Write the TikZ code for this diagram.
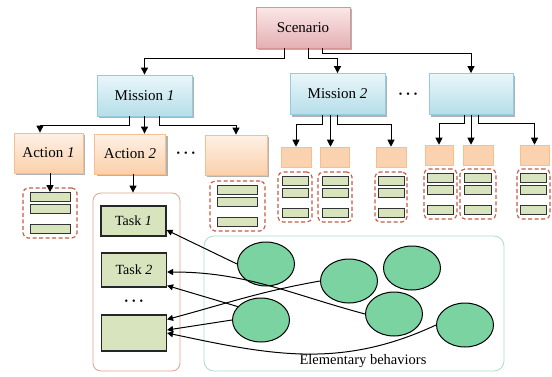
\documentclass[tikz,border=0pt]{standalone}
\usepackage{fontspec}
\setmainfont{Liberation Serif}
\usetikzlibrary{arrows.meta,shadows,shapes.geometric}

\definecolor{scentop}{HTML}{FBE7E7}
\definecolor{scenbot}{HTML}{E4B0B3}
\definecolor{scenline}{HTML}{D99594}
\definecolor{misstop}{HTML}{EAF6FA}
\definecolor{missbot}{HTML}{B5DEE9}
\definecolor{missline}{HTML}{93CDDD}
\definecolor{acttop}{HTML}{FEF1E5}
\definecolor{actbot}{HTML}{FAD0AB}
\definecolor{actline}{HTML}{F7BE90}
\definecolor{smallfill}{HTML}{FBD2B0}
\definecolor{barfill}{HTML}{D7E4BD}
\definecolor{grpline}{HTML}{C85A42}
\definecolor{taskline}{HTML}{E4A28D}
\definecolor{behline}{HTML}{A9DCD0}
\definecolor{behfill}{HTML}{7AD3A0}

\begin{document}
\begin{tikzpicture}[x=1pt,y=-1pt,line width=.35mm,
    arr/.style={-{Triangle[length=7pt,width=7pt]}},
    barr/.style={-{Triangle[length=6pt,width=6pt]}},
    shadowed/.style={drop shadow={shadow xshift=2pt,shadow yshift=-2pt,fill=black,opacity=.3}},
    topbox/.style={shadowed,minimum height=41pt,inner sep=0pt,line width=.3mm,font=\fontsize{15}{18}\selectfont},
    scenbox/.style={topbox,draw=scenline,top color=scentop,bottom color=scenbot,minimum width=94pt},
    missbox/.style={topbox,draw=missline,top color=misstop,bottom color=missbot,minimum width=95pt},
    actbox/.style={topbox,draw=actline,top color=acttop,bottom color=actbot,minimum height=40pt},
    smallbox/.style={draw=actline,fill=smallfill,minimum height=20pt,inner sep=0pt,line width=.2mm},
    grp/.style={draw=grpline,dash pattern=on 4pt off 2.5pt,rounded corners=5pt,line width=.4mm,minimum height=50pt,inner sep=0pt},
    bar/.style={draw=black!80,fill=barfill,minimum height=9pt,inner sep=0pt,line width=.3mm},
    task/.style={draw=black!85,fill=barfill,minimum width=65pt,inner sep=0pt,line width=.4mm,font=\fontsize{14}{16}\selectfont},
    beh/.style={draw,ellipse,fill=behfill,minimum width=57pt,minimum height=44pt,inner sep=0pt},
    dots/.style={font=\fontsize{10}{10}\selectfont}]
  \useasboundingbox (0,0) rectangle (552,376);

  \node[scenbox] (scen) at (303,27.5) {Scenario};

  \node[missbox] (m1) at (144.5,95.5) {Mission \textit{1}};
  \node[missbox] (m2) at (337.5,94) {Mission \textit{2}};
  \node[missbox,minimum width=84pt] (m3) at (471,94) {};
  \node[dots] (d2) at (408,95) {\textbullet\hspace{4pt}\textbullet\hspace{4pt}\textbullet};

  \node[actbox,minimum width=69pt] (a1) at (48.5,153) {Action \textit{1}};
  \node[actbox,minimum width=71pt] (a2) at (130,154) {Action \textit{2}};
  \node[actbox,minimum width=62pt] (a3) at (236,155) {};
  \node[dots] (d1) at (186,154) {\textbullet\hspace{4pt}\textbullet\hspace{4pt}\textbullet};

  \node[smallbox,minimum width=30pt] (b1) at (296,157) {};
  \node[smallbox,minimum width=29pt] (b2) at (334.5,157) {};
  \node[smallbox,minimum width=30pt] (b3) at (391,157) {};
  \node[smallbox,minimum width=28pt] (b4) at (439,155) {};
  \node[smallbox,minimum width=30pt] (b5) at (478,155) {};
  \node[smallbox,minimum width=29pt] (b6) at (534.5,155) {};

  \foreach \nm/\cx/\ty/\w/\bw in {ga/50/188/54/40, gc/237.5/181/55/40,
      g1/295/172/34/26, g2/335/172/34/26, g3/391/172/32/26,
      g4/440.5/169/33/26, g5/478/169/36/27, g6/533.5/169/33/26} {
    \node[grp,minimum width=\w pt] (\nm) at (\cx,{\ty+25}) {};
    \foreach \k/\o in {1/9,2/21,3/41}
      \node[bar,minimum width=\bw pt] (\nm-\k) at (\cx,{\ty+\o}) {};
  }

  \node[draw=taskline,line width=.3mm,rounded corners=8pt,minimum width=87pt,minimum height=178pt] (tc) at (136.5,282) {};
  \node[draw=behline,line width=.3mm,rounded corners=10pt,minimum width=300pt,minimum height=135pt] (bc) at (354,303.5) {};

  \node[task,minimum height=30pt] (t1) at (133.5,221) {Task \textit{1}};
  \node[task,minimum height=34pt] (t2) at (134,270) {Task \textit{2}};
  \node[dots] (d3) at (134,302) {\textbullet\hspace{4pt}\textbullet\hspace{4pt}\textbullet};
  \node[task,minimum height=36pt] (t3) at (134,333) {};

  \foreach \n/\x/\y in {e1/266/264, e2/349/281, e3/412/268, e4/261/320, e5/394/314, e6/465/325}
    \node[beh] (\n) at (\x,\y) {};
  \node[font=\fontsize{14.5}{16}\selectfont] (lbl) at (363,361) {Elementary behaviors};

  \draw[arr] ([xshift=-19pt]scen.south) -- ++(0,10) -| (m1.north);
  \draw[arr] ([xshift=5pt]scen.south) -- ++(0,10) -| (m2.north);
  \draw[arr] ([xshift=19pt]scen.south) -- ++(0,5) -| (m3.north);

  \draw[arr] ([xshift=-15pt]m1.south) -- ++(0,9) -| ([xshift=-8.5pt]a1.north);
  \draw[arr] (m1.south) -- (m1.south |- a2.north);
  \draw[arr] ([xshift=15pt]m1.south) -- ++(0,9) -| (a3.north);

  \draw[arr] ([xshift=-15pt]m2.south) -- ++(0,10) -| (b1.north);
  \draw[arr] ([xshift=-7pt]m2.south) -- ([xshift=-7pt]m2.south |- b2.north);
  \draw[arr] (m2.south) -- ++(0,10) -| (b3.north);

  \draw[arr] ([xshift=-7pt]m3.south) -- ++(0,9) -| (b4.north);
  \draw[arr] (m3.south) -- (m3.south |- b5.north);
  \draw[arr] ([xshift=7pt]m3.south) -- ++(0,9) -| (b6.north);

  \draw[arr] (a1.south -| ga-1.north) -- (ga-1.north);
  \draw[arr] ([xshift=3pt]a2.south) -- ([xshift=3pt]a2.south |- tc.north);

  \draw[barr] (e1.west) -- ([yshift=-9pt]t1.east);
  \draw[barr] (e5.west) to[out=165,in=0] ([yshift=-2pt]t2.east);
  \draw[barr] (e4.150) -- ([yshift=2pt]t2.south east);
  \draw[barr] (e2.west) to[out=190,in=15] ([yshift=-5pt]t3.north east);
  \draw[barr] (e4.west) -- ([yshift=3pt]t3.east);
  \draw[barr] (e6.west) to[out=205,in=-12] (t3.east);
\end{tikzpicture}
\end{document}
